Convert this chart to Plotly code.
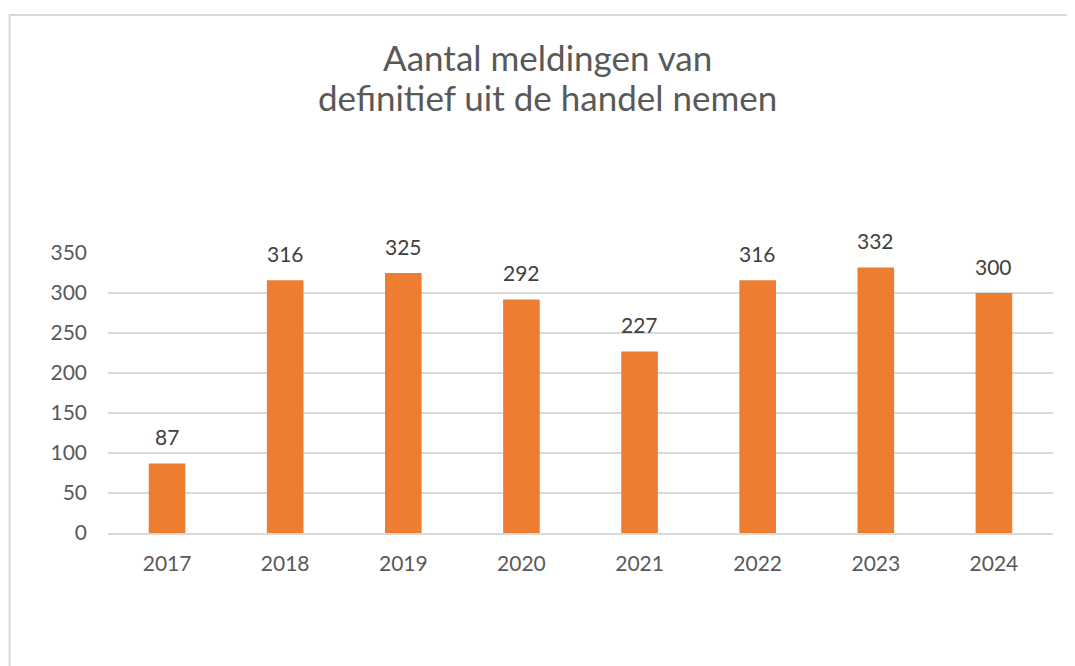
import plotly.graph_objects as go

years = ["2017", "2018", "2019", "2020", "2021", "2022", "2023", "2024"]
counts = [87, 316, 325, 292, 227, 316, 332, 300]
y_ticks = [0, 50, 100, 150, 200, 250, 300, 350]
title_lines = ["Aantal meldingen van", "definitief uit de handel nemen"]

# page has an 8px body margin; work in figure pixels = page pixels - 8
OFF = 8
W, H = 1075 - OFF, 666 - OFF
L, R, T, B = 108.4 - OFF, 21.5, 252.7 - OFF, 132.5
pw, ph = W - L - R, H - T - B

def px_x(x):
    return (x - OFF - L) / pw

def px_y(y):
    return (H - B - (y - OFF)) / ph

FONT = "Lato"
fig = go.Figure()
fig.add_trace(go.Bar(
    x=years, y=counts, marker=dict(color="#ED7D31", line=dict(width=0)),
    hoverinfo="x+y",
))

# category axis: annotation x given as category index
for i, v in enumerate(counts):
    fig.add_annotation(x=i, y=v, text=str(v), showarrow=False, yanchor="bottom",
                       yshift=12, font=dict(family=FONT, size=21, color="#404040"))

for line, yc in zip(title_lines, [56, 96]):
    fig.add_annotation(text=line, xref="paper", yref="paper", x=px_x(548), y=px_y(yc),
                       xanchor="center", yanchor="middle", showarrow=False,
                       font=dict(family=FONT, size=35, color="#595959"))

fig.update_layout(
    width=W, height=H,
    margin=dict(l=L, r=R, t=T, b=B, autoexpand=False),
    paper_bgcolor="white", plot_bgcolor="white",
    bargap=0.69,
    showlegend=False,
    xaxis=dict(type="category", range=[-0.5, len(years) - 0.5], showgrid=False,
               showline=True, linecolor="#d9d9d9",
               linewidth=1.5, tickfont=dict(family=FONT, size=21, color="#595959"),
               ticks="", ticklabelstandoff=11, zeroline=False),
    yaxis=dict(range=[0, 350], tickvals=y_ticks, showgrid=True, gridcolor="#d9d9d9",
               gridwidth=1.5, zeroline=False, showline=False, ticks="",
               tickfont=dict(family=FONT, size=21, color="#595959"),
               ticklabelstandoff=20),
    shapes=[dict(type="rect", xref="paper", yref="paper",
                 x0=px_x(10), x1=px_x(1090), y0=px_y(680), y1=px_y(14),
                 line=dict(color="#d9d9d9", width=2), fillcolor="rgba(0,0,0,0)",
                 layer="below")],
)

fig.write_html("out.html")
